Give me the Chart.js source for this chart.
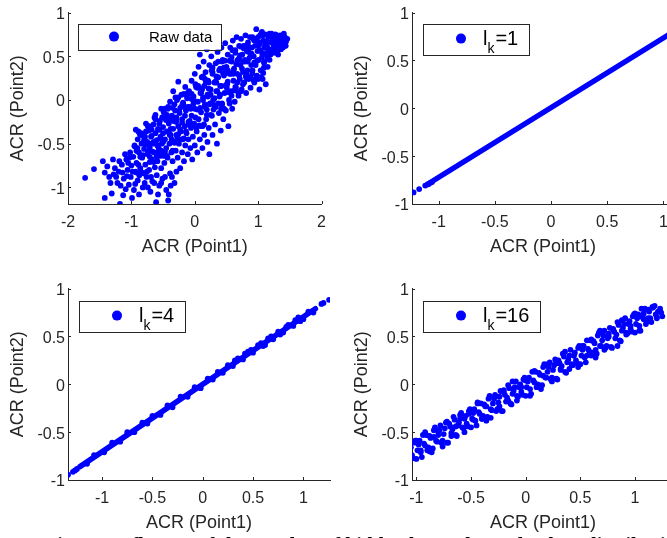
<!DOCTYPE html>
<html>
<head>
<meta charset="utf-8">
<script src="https://cdn.jsdelivr.net/npm/chart.js@4.4.1/dist/chart.umd.min.js"></script>
<style>
  html, body { margin: 0; padding: 0; background: #fff; overflow: hidden; width: 667px; height: 538px; }
  canvas { position: absolute; }
  #c1 { left: 0px; top: 0px; }
  #c2 { left: 344px; top: 0px; }
  #c3 { left: 0px; top: 276px; }
  #c4 { left: 344px; top: 276px; }
  .caption { position: absolute; left: 45px; top: 534px; font: bold 20px "Liberation Serif", serif; color: #000; white-space: nowrap; }
</style>
</head>
<body>
<canvas id="c1" width="335" height="268"></canvas>
<canvas id="c2" width="335" height="268"></canvas>
<canvas id="c3" width="335" height="268"></canvas>
<canvas id="c4" width="335" height="268"></canvas>
<div class="caption">Fig. 16. Influence of the number of hidden layers l<sub>k</sub> on the data distribution.</div>
<script>
const xTitle = 'ACR (Point1)';
const yTitle = 'ACR (Point2)';
const legendLabels = ['Raw data', 'l_k=1', 'l_k=4', 'l_k=16'];

// axis limits [xmin, xmax, ymin, ymax] and tick steps for each panel
const limits = [[-2, 2, -1.19, 1], [-1.238, 1.095, -1, 1], [-1.339, 1.265, -1, 1], [-1.04, 1.357, -1, 1]];
const xSteps = [1, 0.5, 0.5, 0.5];

// raw data cloud
const rawData = [
  [-1.73,-0.89],[-1.59,-0.79],[-1.45,-0.7],[-1.42,-1.12],[-1.42,-0.83],[-1.31,-1.07],[-1.35,-0.88],[-1.28,-0.85],
  [-1.26,-0.78],[-1.22,-0.95],[-1.18,-1.19],[-1.2,-0.82],[-1.15,-0.74],[-1.13,-1.09],[-1.12,-0.9],[-1.08,-0.68],
  [-1.06,-0.8],[-1.04,-0.97],[-1.02,-0.6],[-1.0,-0.75],[-1.01,-0.88],[-0.99,-1.12],[-0.96,-1.03],[-0.97,-0.65],
  [-1.38,-0.76],[-1.33,-0.95],[-1.29,-0.68],[-1.24,-0.88],[-1.19,-0.7],[-1.17,-0.98],[-1.14,-0.83],[-1.1,-0.62],
  [-1.09,-1.02],[-1.07,-0.87],[-1.05,-0.72],[-1.03,-0.66],[-0.98,-0.82],[-0.94,-0.96],[-0.91,-0.58],[-0.88,-1.08],
  [-0.86,-0.78],[-0.79,-0.95],[-0.74,-1.0],[-0.69,-0.88],[-0.64,-0.95],[-0.58,-1.08],[-0.53,-0.95],[-0.47,-0.88],
  [-0.41,-1.08],[-0.38,-0.98],[-0.36,-0.88],[-0.29,-0.82],
  [-0.95,-0.52],[-0.93,-0.34],[-0.92,-0.72],[-0.9,-0.45],[-0.9,-0.92],[-0.88,-0.6],[-0.87,-0.38],[-0.85,-0.82],
  [-0.84,-0.5],[-0.83,-0.66],[-0.82,-1.0],[-0.8,-0.42],[-0.8,-0.56],[-0.78,-0.74],[-0.77,-0.36],[-0.76,-0.88],
  [-0.75,-0.48],[-0.74,-0.62],[-0.72,-0.3],[-0.72,-0.8],[-0.71,-0.55],[-0.7,-1.05],[-0.69,-0.42],[-0.68,-0.68],
  [-0.67,-0.93],[-0.66,-0.5],[-0.65,-0.28],[-0.64,-0.6],[-0.63,-0.77],[-0.62,-0.38],[-0.61,-1.17],[-0.6,-0.46],
  [-0.6,-0.86],[-0.59,-0.7],[-0.58,-0.33],[-0.57,-0.55],[-0.56,-0.98],[-0.55,-0.24],[-0.55,-0.64],[-0.54,-0.42],
  [-0.53,-0.78],[-0.52,-0.5],[-0.51,-0.9],[-0.5,-0.31],[-0.5,-0.6],
  [-0.49,-0.14],[-0.48,-0.72],[-0.47,-0.45],[-0.46,-0.2],[-0.45,-1.03],[-0.45,-0.55],[-0.44,-0.36],[-0.43,-0.66],
  [-0.42,-1.15],[-0.42,-0.08],[-0.41,-0.27],[-0.4,-0.5],[-0.39,-0.02],[-0.39,-0.84],[-0.38,-0.4],[-0.37,-0.6],
  [-0.36,-0.18],[-0.35,-0.7],[-0.34,0.1],[-0.34,-0.33],[-0.33,-0.48],[-0.32,-0.95],[-0.31,-0.12],[-0.3,-0.58],
  [-0.3,-0.25],[-0.29,-0.4],[-0.28,0.0],[-0.27,-0.66],[-0.26,0.21],[-0.26,-0.3],[-0.25,-0.5],[-0.24,-0.15],
  [-0.23,-0.78],[-0.22,-0.36],[-0.21,0.06],[-0.2,-0.6],[-0.2,-0.22],[-0.19,-0.45],[-0.18,-0.05],[-0.17,-0.7],
  [-0.16,-0.3],[-0.15,0.15],[-0.15,-0.52],[-0.14,-0.12],[-0.13,-0.38],[-0.12,0.02],[-0.11,-0.62],[-0.1,-0.25],
  [-0.1,-0.45],[-0.09,0.1],[-0.08,-0.08],[-0.07,-0.55],[-0.06,-0.32],[-0.05,0.22],[-0.05,-0.18],[-0.04,-0.68],
  [-0.03,-0.42],[-0.02,0.04],[-0.01,-0.27],[0.0,-0.52],[0.0,0.3],[0.0,-0.1],
  [0.02,0.15],[0.03,-0.36],[0.04,-0.6],[0.05,-0.02],[0.06,0.38],[0.06,-0.22],[0.08,0.52],[0.08,-0.45],
  [0.09,0.08],[0.1,-0.14],[0.11,0.26],[0.12,-0.3],[0.12,-0.55],[0.13,0.0],[0.14,0.44],[0.15,-0.4],
  [0.15,0.16],[0.16,-0.08],[0.17,0.32],[0.18,-0.22],[0.19,0.58],[0.2,-0.48],[0.2,0.06],[0.21,0.22],
  [0.22,-0.32],[0.23,0.4],[0.23,-0.62],[0.24,-0.04],[0.25,0.12],[0.26,0.5],[0.27,-0.18],[0.28,0.3],
  [0.28,-0.4],[0.29,0.0],[0.3,0.62],[0.31,0.2],[0.32,-0.28],[0.33,0.42],[0.33,-0.08],[0.34,0.1],
  [0.35,-0.5],[0.36,0.55],[0.37,0.26],[0.38,-0.15],[0.39,0.04],[0.4,0.36],[0.41,-0.35],[0.42,0.16],
  [0.42,0.6],[0.43,-0.04],[0.44,0.46],[0.45,-0.22],[0.46,0.28],[0.47,0.08],[0.48,0.65],[0.49,-0.12],[0.5,0.38],
  [0.51,0.18],[0.52,0.52],[0.53,-0.3],[0.54,0.0],[0.55,0.3],[0.56,0.6],[0.57,0.1],[0.58,0.44],
  [0.59,-0.1],[0.6,0.68],[0.61,0.22],[0.62,0.36],[0.63,-0.02],[0.64,0.54],[0.65,0.14],[0.66,0.72],
  [0.67,0.3],[0.68,0.46],[0.69,0.05],[0.7,0.62],[0.71,0.24],[0.72,0.4],[0.73,0.7],[0.74,0.12],
  [0.75,0.52],[0.76,0.32],[0.77,0.62],[0.78,0.2],[0.79,0.44],[0.8,0.74],[0.81,0.08],[0.82,0.56],
  [0.83,0.34],[0.84,0.66],[0.85,0.24],[0.86,0.48],[0.87,0.72],[0.88,0.14],[0.89,0.4],[0.9,0.6],
  [0.91,0.3],[0.92,0.7],[0.93,0.5],[0.94,0.2],[0.95,0.62],[0.96,0.4],[0.97,0.81],[0.98,0.28],[0.99,0.56],[1.0,0.72],
  [1.01,0.46],[1.02,0.12],[1.03,0.64],[1.04,0.34],[1.05,0.76],[1.06,0.54],[1.07,0.24],[1.08,0.68],
  [1.08,0.31],[1.1,0.44],[1.1,0.6],[1.11,0.75],[1.12,0.18],[1.13,0.52],[1.14,0.66],[1.15,0.38],
  [1.16,0.72],[1.17,0.58],[1.18,0.46],[1.2,0.66],[1.21,0.76],[1.22,0.54],[1.24,0.64],[1.25,0.72],
  [1.27,0.58],[1.28,0.68],[1.3,0.74],[1.31,0.62],[1.33,0.7],[1.35,0.74],[1.36,0.6],[1.38,0.66],
  [1.4,0.72],[1.42,0.62],[1.44,0.67],[1.46,0.7],
  [-0.95,-0.53],[-0.92,-0.83],[-0.89,-0.36],[-0.86,-0.65],[-0.83,-0.4],[-0.8,-0.84],[-0.77,-0.51],[-0.74,-0.3],
  [-0.71,-0.65],[-0.68,-0.41],[-0.65,-0.71],[-0.62,-0.17],[-0.59,-0.52],[-0.56,-0.27],[-0.53,-0.58],[-0.5,-0.38],
  [-0.47,-0.1],[-0.44,-0.64],[-0.41,-0.23],[-0.38,-0.33],[-0.35,-0.09],[-0.32,-0.49],[-0.29,-0.2],[-0.26,0.03],
  [-0.23,-0.34],[-0.2,-0.06],[-0.17,-0.44],[-0.14,-0.1],[-0.11,0.08],[-0.08,-0.29],[-0.05,0.01],[-0.02,-0.29],
  [0.01,0.18],[0.04,-0.11],[0.07,0.14],[0.1,-0.3],[0.13,0.03],[0.16,0.24],[0.19,-0.11],[0.22,0.13],
  [0.25,-0.17],[0.28,0.37],[0.31,0.02],[0.34,0.27],[0.37,-0.04],[0.4,0.16],[0.43,0.44],[0.46,-0.1],
  [0.49,0.31],[0.52,0.21],[0.55,0.45],[0.58,0.05],[0.61,0.34],[0.64,0.57],[0.67,0.2],[0.7,0.48],
  [0.73,0.1],[0.76,0.44],[0.79,0.62],[0.82,0.25],[0.85,0.55],[0.88,0.25],[0.91,0.72],[0.94,0.43],
  [0.97,0.68],[1.0,0.24],[1.03,0.57],[1.06,0.78],[1.09,0.43],[1.12,0.64],[1.15,0.48],[1.18,0.76],
  [1.21,0.57],[1.24,0.7],[1.27,0.54],[1.3,0.64],[1.33,0.73],[1.36,0.58],[1.39,0.71],[1.42,0.64],
  [-0.935,-0.82],[-0.905,-0.55],[-0.875,-0.86],[-0.845,-0.38],[-0.815,-0.63],[-0.785,-0.42],[-0.755,-0.82],[-0.725,-0.35],
  [-0.695,-0.5],[-0.665,-0.59],[-0.635,-0.2],[-0.605,-0.65],[-0.575,-0.34],[-0.545,-0.44],[-0.515,-0.2],[-0.485,-0.64],
  [-0.455,-0.23],[-0.425,-0.1],[-0.395,-0.4],[-0.365,-0.45],[-0.335,-0.24],[-0.305,0.03],[-0.275,-0.44],[-0.245,-0.13],
  [-0.215,-0.45],[-0.185,-0.03],[-0.155,-0.18],[-0.125,0.05],[-0.095,-0.27],[-0.065,-0.1],[-0.035,-0.28],[-0.005,-0.01],
  [0.025,-0.32],[0.055,0.16],[0.085,-0.09],[0.115,0.12],[0.145,-0.28],[0.175,0.2],[0.205,0.04],[0.235,-0.05],
  [0.265,0.34],[0.295,-0.11],[0.325,0.21],[0.355,0.1],[0.385,0.34],[0.415,-0.1],[0.445,0.31],[0.475,0.45],
  [0.505,0.14],[0.535,0.09],[0.565,0.3],[0.595,0.57],[0.625,0.11],[0.655,0.41],[0.685,0.09],[0.715,0.51],
  [0.745,0.36],[0.775,0.59],[0.805,0.27],[0.835,0.44],[0.865,0.26],[0.895,0.53],[0.925,0.23],[0.955,0.7],
  [0.985,0.45],[1.015,0.66],[1.045,0.26],[1.075,0.74],[1.105,0.6],[1.135,0.54],[1.165,0.74],[1.195,0.52],
  [1.225,0.67],[1.255,0.61],[1.285,0.74],[1.315,0.52],[1.345,0.71],[1.375,0.65],[1.405,0.76],[1.435,0.62],
  [-0.92,-0.58],[-0.89,-0.74],[-0.86,-0.4],[-0.83,-0.83],[-0.8,-0.46],[-0.77,-0.27],[-0.74,-0.59],[-0.71,-0.71],
  [-0.68,-0.34],[-0.65,-0.48],[-0.62,-0.22],[-0.59,-0.6],[-0.56,-0.34],[-0.53,-0.1],[-0.5,-0.48],[-0.47,-0.59],
  [-0.44,-0.17],[-0.41,-0.37],[-0.38,-0.2],[-0.35,-0.58],[-0.32,-0.05],[-0.29,-0.24],[-0.26,-0.39],[-0.23,-0.09],
  [-0.2,-0.26],[-0.17,0.07],[-0.14,-0.36],[-0.11,-0.08],[-0.08,-0.24],[-0.05,0.07],[-0.02,-0.04],[0.01,-0.2],
  [0.04,0.14],[0.07,-0.29],[0.1,0.08],[0.13,0.27],[0.16,-0.05],[0.19,-0.17],[0.22,0.2],[0.25,0.06],
  [0.28,0.32],[0.31,-0.06],[0.34,0.2],[0.37,0.44],[0.4,0.06],[0.43,-0.05],[0.46,0.37],[0.49,0.17],
  [0.52,0.34],[0.55,-0.04],[0.58,0.49],[0.61,0.3],[0.64,0.15],[0.67,0.45],[0.7,0.28],[0.73,0.61],
  [0.76,0.18],[0.79,0.46],[0.82,0.3],[0.85,0.61],[0.88,0.5],[0.91,0.34],[0.94,0.68],[0.97,0.25],
  [1.0,0.62],[1.03,0.74],[1.06,0.49],[1.09,0.37],[1.12,0.67],[1.15,0.6],[1.18,0.52],[1.21,0.72],
  [1.24,0.59],[1.27,0.75],[1.3,0.56],[1.33,0.68],[1.36,0.73],[1.39,0.6],[1.42,0.72]
];

// l_k = 1: dense run of points (drawn as a thick stroke) plus the sparse start
const lk1Run = [[-1.05,-0.757],[1.12,0.822]];
const lk1Points = [[-1.224,-0.879],[-1.174,-0.844],[-1.12,-0.807],[-1.1,-0.795],[-1.09,-0.79],[-1.075,-0.778],[-1.06,-0.77]];

// l_k = 4
const lk4Run = [[-1.22,-0.86],[1.12,0.79]];
const lk4Points = [
  [-1.339,-0.945],[-1.29,-0.915],[-1.27,-0.9],[-1.25,-0.885],[-1.15,-0.83],[-1.08,-0.74],[-0.98,-0.71],[-0.9,-0.61],
  [-0.82,-0.6],[-0.75,-0.5],[-0.68,-0.5],[-0.6,-0.4],[-0.55,-0.41],[-0.5,-0.33],[-0.42,-0.32],[-0.35,-0.22],
  [-0.3,-0.24],[-0.22,-0.13],[-0.15,-0.13],[-0.08,-0.03],[-0.02,-0.04],[0.05,0.06],[0.1,0.05],[0.15,0.13],
  [0.2,0.12],[0.25,0.2],[0.3,0.19],[0.35,0.27],[0.4,0.26],[0.45,0.34],[0.5,0.33],[0.55,0.41],
  [0.6,0.4],[0.65,0.48],[0.7,0.47],[0.75,0.55],[0.8,0.54],[0.85,0.62],[0.9,0.61],[0.95,0.7],
  [1.0,0.68],[1.05,0.76],[1.1,0.75],[1.18,0.84],[1.2,0.85],[1.256,0.883],
  [0.32,0.25],[0.42,0.32],[0.48,0.36],[0.58,0.43],[0.62,0.41],[0.68,0.5],[0.77,0.52],[0.83,0.6],[0.92,0.67],[0.97,0.66]
];

// l_k = 16
const lk16Points = [
  [-1.05,-0.66],[-1.03,-0.77],[-1.01,-0.59],[-0.99,-0.69],[-0.97,-0.59],[-0.95,-0.76],[-0.93,-0.62],[-0.91,-0.53],
  [-0.89,-0.66],[-0.87,-0.56],[-0.85,-0.67],[-0.83,-0.45],[-0.81,-0.6],[-0.79,-0.48],[-0.77,-0.61],[-0.75,-0.52],
  [-0.73,-0.4],[-0.71,-0.61],[-0.69,-0.44],[-0.67,-0.47],[-0.65,-0.37],[-0.63,-0.54],[-0.61,-0.4],[-0.59,-0.3],
  [-0.57,-0.46],[-0.55,-0.33],[-0.53,-0.44],[-0.51,-0.26],[-0.49,-0.36],[-0.47,-0.26],[-0.45,-0.43],[-0.43,-0.29],
  [-0.41,-0.2],[-0.39,-0.33],[-0.37,-0.23],[-0.35,-0.34],[-0.33,-0.12],[-0.31,-0.27],[-0.29,-0.15],[-0.27,-0.28],
  [-0.25,-0.19],[-0.23,-0.07],[-0.21,-0.28],[-0.19,-0.11],[-0.17,-0.14],[-0.15,-0.04],[-0.13,-0.21],[-0.11,-0.07],
  [-0.09,0.03],[-0.07,-0.13],[-0.05,0.0],[-0.03,-0.11],[-0.01,0.07],[0.01,-0.03],[0.03,0.07],[0.05,-0.1],
  [0.07,0.04],[0.09,0.13],[0.11,0.0],[0.13,0.1],[0.15,-0.01],[0.17,0.21],[0.19,0.07],[0.21,0.18],
  [0.23,0.05],[0.25,0.15],[0.27,0.26],[0.29,0.05],[0.31,0.22],[0.33,0.19],[0.35,0.29],[0.37,0.12],
  [0.39,0.26],[0.41,0.36],[0.43,0.2],[0.45,0.33],[0.47,0.22],[0.49,0.4],[0.51,0.3],[0.53,0.4],
  [0.55,0.23],[0.57,0.37],[0.59,0.46],[0.61,0.33],[0.63,0.43],[0.65,0.32],[0.67,0.54],[0.69,0.4],
  [0.71,0.51],[0.73,0.38],[0.75,0.48],[0.77,0.59],[0.79,0.38],[0.81,0.55],[0.83,0.52],[0.85,0.62],
  [0.87,0.45],[0.89,0.59],[0.91,0.69],[0.93,0.53],[0.95,0.66],[0.97,0.55],[0.99,0.73],[1.01,0.63],
  [1.03,0.73],[1.05,0.56],[1.07,0.7],[1.09,0.79],[1.11,0.66],[1.13,0.76],[1.15,0.65],[1.17,0.81],
  [1.19,0.73],[1.21,0.76],[1.23,0.79],[1.25,0.71],
  [-1.04,-0.74],[-1.02,-0.61],[-1.0,-0.78],[-0.98,-0.63],[-0.96,-0.71],[-0.94,-0.53],[-0.92,-0.64],[-0.9,-0.69],
  [-0.88,-0.54],[-0.86,-0.71],[-0.84,-0.48],[-0.82,-0.59],[-0.8,-0.53],[-0.78,-0.43],[-0.76,-0.59],[-0.74,-0.46],
  [-0.72,-0.61],[-0.7,-0.41],[-0.68,-0.51],[-0.66,-0.34],[-0.64,-0.53],[-0.62,-0.43],[-0.6,-0.36],[-0.58,-0.45],
  [-0.56,-0.36],[-0.54,-0.41],[-0.52,-0.28],[-0.5,-0.45],[-0.48,-0.3],[-0.46,-0.38],[-0.44,-0.2],[-0.42,-0.31],
  [-0.4,-0.36],[-0.38,-0.21],[-0.36,-0.38],[-0.34,-0.15],[-0.32,-0.26],[-0.3,-0.2],[-0.28,-0.11],[-0.26,-0.26],
  [-0.24,-0.13],[-0.22,-0.28],[-0.2,-0.08],[-0.18,-0.18],[-0.16,-0.01],[-0.14,-0.2],[-0.12,-0.1],[-0.1,-0.03],
  [-0.08,-0.12],[-0.06,-0.03],[-0.04,-0.08],[-0.02,0.05],[0.0,-0.12],[0.02,0.03],[0.04,-0.05],[0.06,0.13],
  [0.08,0.02],[0.1,-0.03],[0.12,0.12],[0.14,-0.05],[0.16,0.18],[0.18,0.07],[0.2,0.13],[0.22,0.23],
  [0.24,0.07],[0.26,0.2],[0.28,0.06],[0.3,0.25],[0.32,0.15],[0.34,0.32],[0.36,0.13],[0.38,0.23],
  [0.4,0.3],[0.42,0.21],[0.44,0.3],[0.46,0.25],[0.48,0.38],[0.5,0.21],[0.52,0.36],[0.54,0.28],
  [0.56,0.46],[0.58,0.35],[0.6,0.3],[0.62,0.45],[0.64,0.28],[0.66,0.51],[0.68,0.4],[0.7,0.46],
  [0.72,0.56],[0.74,0.4],[0.76,0.53],[0.78,0.39],[0.8,0.58],[0.82,0.48],[0.84,0.65],[0.86,0.46],
  [0.88,0.56],[0.9,0.63],[0.92,0.54],[0.94,0.63],[0.96,0.58],[0.98,0.71],[1.0,0.54],[1.02,0.69],
  [1.04,0.61],[1.06,0.79],[1.08,0.68],[1.1,0.63],[1.12,0.78],[1.14,0.69],[1.16,0.8],[1.18,0.82],[1.2,0.7],
  [-1.0,-0.59],[-0.96,-0.69],[-0.92,-0.5],[-0.88,-0.7],[-0.84,-0.55],[-0.8,-0.49],[-0.76,-0.65],[-0.72,-0.39],
  [-0.68,-0.54],[-0.64,-0.44],[-0.6,-0.32],[-0.56,-0.5],[-0.52,-0.31],[-0.48,-0.37],[-0.44,-0.19],[-0.4,-0.36],
  [-0.36,-0.23],[-0.32,-0.35],[-0.28,-0.13],[-0.24,-0.23],[-0.2,-0.06],[-0.16,-0.17],[-0.12,0.03],[-0.08,-0.17],
  [-0.04,-0.03],[0.0,0.04],[0.04,-0.12],[0.08,0.14],[0.12,-0.01],[0.16,0.09],[0.2,0.21],[0.24,0.03],
  [0.28,0.22],[0.32,0.16],[0.36,0.34],[0.4,0.16],[0.44,0.3],[0.48,0.18],[0.52,0.4],[0.56,0.3],
  [0.6,0.47],[0.64,0.36],[0.68,0.56],[0.72,0.36],[0.76,0.5],[0.8,0.57],[0.84,0.4],[0.88,0.67],
  [0.92,0.52],[0.96,0.61],[1.0,0.74],[1.04,0.56],[1.08,0.74],[1.12,0.69],[1.16,0.81],[1.2,0.69],[1.24,0.75]
];

const blue = '#0000ff';
const axisColor = '#262626';
const toXY = arr => arr.map(p => ({ x: p[0], y: p[1] }));

const pointSet = (data, label) => ({
  label: label, data: toXY(data), pointRadius: 2.9, pointBackgroundColor: blue,
  pointBorderWidth: 0, borderWidth: 0, showLine: false
});
const runSet = (data, width) => ({
  data: toXY(data), showLine: true, borderColor: blue, borderWidth: width,
  pointRadius: 0, borderCapStyle: 'round'
});

// MATLAB style ticks pointing into the axes
const innerTicks = {
  id: 'innerTicks',
  afterDatasetsDraw(chart) {
    const { ctx, chartArea: a, scales } = chart;
    ctx.save();
    ctx.strokeStyle = axisColor;
    ctx.lineWidth = 1;
    scales.x.ticks.forEach(t => {
      const px = Math.round(scales.x.getPixelForValue(t.value)) + 0.5;
      ctx.beginPath(); ctx.moveTo(px, a.bottom); ctx.lineTo(px, a.bottom - 3); ctx.stroke();
    });
    scales.y.ticks.forEach(t => {
      const py = Math.round(scales.y.getPixelForValue(t.value)) + 0.5;
      ctx.beginPath(); ctx.moveTo(a.left, py); ctx.lineTo(a.left + 3, py); ctx.stroke();
    });
    ctx.restore();
  }
};

// boxed legend in the upper left of the axes, label may carry a subscript "l_k"
const boxLegend = {
  id: 'boxLegend',
  afterDraw(chart, args, opts) {
    const { ctx, chartArea: a } = chart;
    const label = opts.label;
    const x = a.left + opts.dx, y = a.top + opts.dy;
    const parts = label.match(/^(.*)_(\w)(.*)$/);
    ctx.save();
    let w;
    if (parts) {
      ctx.font = opts.size + 'px "Liberation Sans"';
      const w1 = ctx.measureText(parts[1]).width;
      const w3 = ctx.measureText(parts[3]).width;
      ctx.font = opts.subSize + 'px "Liberation Sans"';
      const w2 = ctx.measureText(parts[2]).width;
      w = opts.textDx + w1 + w2 + 1 + w3 + opts.padRight;
    } else {
      ctx.font = opts.size + 'px "Liberation Sans"';
      w = opts.textDx + ctx.measureText(label).width + opts.padRight;
    }
    ctx.fillStyle = '#fff';
    ctx.fillRect(x, y, w, opts.h);
    ctx.strokeStyle = axisColor;
    ctx.lineWidth = 1;
    ctx.strokeRect(Math.round(x) + 0.5, Math.round(y) + 0.5, Math.round(w), opts.h);
    ctx.fillStyle = blue;
    ctx.beginPath();
    ctx.arc(x + opts.markerDx, y + opts.markerDy, 5, 0, Math.PI * 2);
    ctx.fill();
    ctx.fillStyle = '#000';
    ctx.textBaseline = 'alphabetic';
    let tx = x + opts.textDx;
    if (parts) {
      ctx.font = opts.size + 'px "Liberation Sans"';
      ctx.fillText(parts[1], tx, y + opts.baseline);
      tx += ctx.measureText(parts[1]).width;
      ctx.font = opts.subSize + 'px "Liberation Sans"';
      ctx.fillText(parts[2], tx, y + opts.baseline + 8);
      tx += ctx.measureText(parts[2]).width + 1;
      ctx.font = opts.size + 'px "Liberation Sans"';
      ctx.fillText(parts[3], tx, y + opts.baseline);
    } else {
      ctx.fillText(label, tx, y + opts.baseline);
    }
    ctx.restore();
  }
};

function axis(min, max, step, isX, title) {
  return {
    type: 'linear', min: min, max: max,
    afterFit: s => { if (isX) s.height = 64; else s.width = 68; },
    grid: { display: false, drawTicks: false },
    border: { display: true, color: axisColor, width: 1 },
    ticks: {
      stepSize: step, includeBounds: false, autoSkip: false, maxRotation: 0,
      color: axisColor, font: { family: 'Liberation Sans', size: 16 },
      padding: isX ? 9 : 3, labelOffset: isX ? 0 : 2,
      callback: v => String(Math.round(v * 100) / 100)
    },
    title: {
      display: true, text: title, color: axisColor,
      font: { family: 'Liberation Sans', size: 18 },
      padding: isX ? { top: 0, bottom: 10 } : { top: 7, bottom: 0 }
    }
  };
}

function makeChart(id, idx, datasets, legendOpts) {
  const lim = limits[idx];
  return new Chart(document.getElementById(id), {
    type: 'scatter',
    data: { datasets: datasets },
    options: {
      responsive: false, animation: false, devicePixelRatio: 1,
      layout: { padding: { top: 10, right: 5, left: 0, bottom: 0 } },
      plugins: { legend: { display: false }, tooltip: { enabled: false }, boxLegend: legendOpts },
      scales: {
        x: axis(lim[0], lim[1], xSteps[idx], true, xTitle),
        y: axis(lim[2], lim[3], 0.5, false, yTitle)
      }
    },
    plugins: [innerTicks, boxLegend]
  });
}

const rawLegend = { label: legendLabels[0], dx: 10, dy: 11, h: 26, markerDx: 36, markerDy: 13, textDx: 71, padRight: 9, size: 15, subSize: 14, baseline: 18 };
const lkLegend = (i, dy) => ({ label: legendLabels[i], dx: 11, dy: dy, h: 31, markerDx: 38, markerDy: 15, textDx: 60, padRight: 11, size: 20, subSize: 14, baseline: 21 });

makeChart('c1', 0, [pointSet(rawData, legendLabels[0])], rawLegend);
makeChart('c2', 1, [runSet(lk1Run, 5.5), pointSet(lk1Points, legendLabels[1])], lkLegend(1, 11));
makeChart('c3', 2, [runSet(lk4Run, 5.5), pointSet(lk4Points, legendLabels[2])], lkLegend(2, 12));
makeChart('c4', 3, [pointSet(lk16Points, legendLabels[3])], lkLegend(3, 12));
</script>
</body>
</html>
